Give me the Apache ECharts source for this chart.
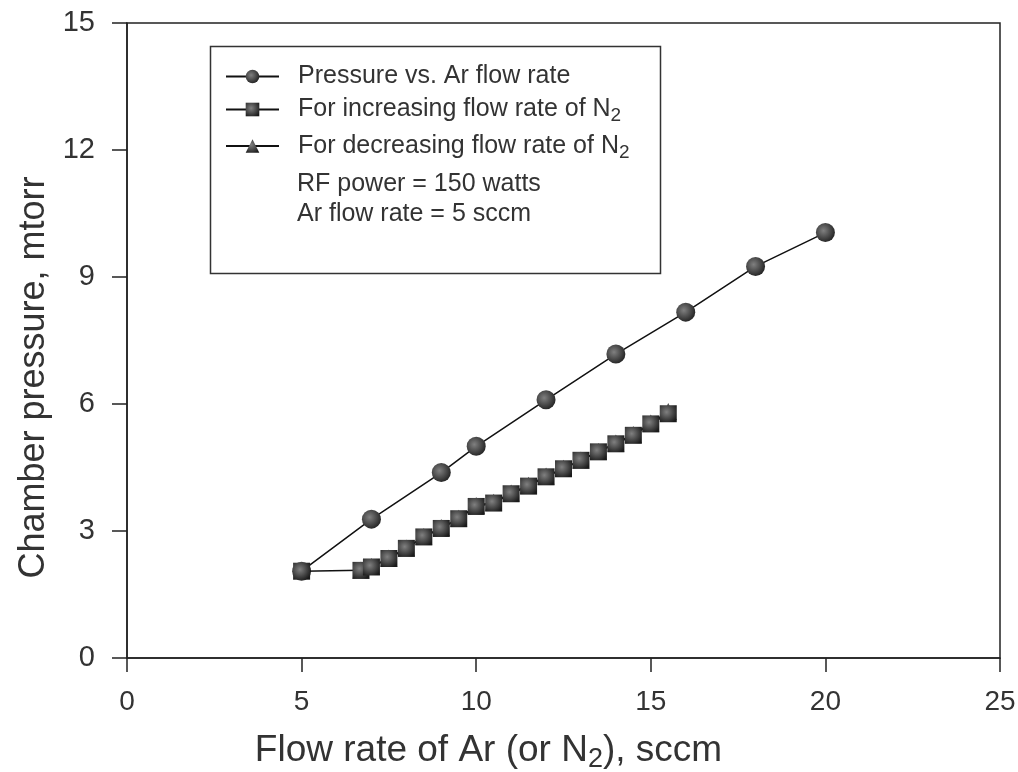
<!DOCTYPE html>
<html>
<head>
<meta charset="utf-8">
<script src="https://cdn.jsdelivr.net/npm/echarts@6/dist/echarts.min.js"></script>
<style>
  html, body { margin: 0; padding: 0; background: #fff; }
  #chart1 { width: 1018px; height: 772px; }
</style>
</head>
<body>
<div id="chart1"></div>
<script>
// 压力 vs Ar 流量
var arFlow = [5, 7, 9, 10, 12, 14, 16, 18, 20];
var arPressure = [2.05, 3.28, 4.38, 5.0, 6.1, 7.18, 8.17, 9.25, 10.05];

// N2 流量增加
var n2IncFlow = [5, 6.7, 7, 7.5, 8, 8.5, 9, 9.5, 10, 10.5, 11, 11.5, 12, 12.5, 13, 13.5, 14, 14.5, 15, 15.5];
var n2IncPressure = [2.05, 2.07, 2.15, 2.35, 2.59, 2.86, 3.06, 3.29, 3.58, 3.66, 3.88, 4.06, 4.28, 4.47, 4.67, 4.87, 5.06, 5.26, 5.53, 5.77];

// N2 流量减少 (被方块覆盖)
var n2DecFlow = [15.5, 15, 14.5, 14, 13.5, 13, 12.5, 12, 11.5, 11, 10.5, 10, 9.5, 9, 8.5, 8, 7.5, 7, 6.7];
var n2DecPressure = [5.82, 5.55, 5.28, 5.08, 4.88, 4.68, 4.48, 4.3, 4.08, 3.9, 3.68, 3.6, 3.3, 3.08, 2.87, 2.6, 2.36, 2.16, 2.08];

var xTicks = [0, 5, 10, 15, 20, 25];
var yTicks = [0, 3, 6, 9, 12, 15];

var seriesNames = [
    'Pressure vs. Ar flow rate',
    'For increasing flow rate of N{sub|2}',
    'For decreasing flow rate of N{sub|2}'
];
var noteLines = ['RF power = 150 watts', 'Ar flow rate = 5 sccm'];

function pairs(xs, ys) {
    return xs.map(function (x, i) { return [x, ys[i]]; });
}

var shade = {
    type: 'radial', x: 0.4, y: 0.4, r: 0.7,
    colorStops: [{offset: 0, color: '#808080'}, {offset: 1, color: '#1a1a1a'}]
};
var txt = '#333';
var font = 'Liberation Sans, Arial, sans-serif';

var myChart = echarts.init(document.getElementById('chart1'));
myChart.setOption({
    animation: false,
    backgroundColor: '#fff',
    grid: {
        left: 127, right: 18, top: 23, bottom: 114,
        outerBoundsMode: 'none',
        show: true, borderColor: '#222', borderWidth: 1.5
    },
    legend: {
        orient: 'vertical',
        left: 220, top: 59,
        padding: 5,
        itemWidth: 53, itemHeight: 17,
        itemGap: 8,
        data: seriesNames,
        textStyle: {
            fontFamily: font, fontSize: 25, color: txt, padding: [0, 0, 0, 14],
            rich: { sub: { fontFamily: font, fontSize: 19, color: txt, verticalAlign: 'bottom', padding: [13, 0, 0, 0] } }
        }
    },
    graphic: [
        {
            type: 'rect', left: 208, top: 44, z: 10,
            shape: { width: 450, height: 227 },
            style: { fill: 'none', stroke: '#333', lineWidth: 1.5 }
        },
        {
            type: 'text', left: 297, top: 169, z: 10,
            style: { text: noteLines.join('\n'), font: '25px ' + font, fill: txt, lineHeight: 30 }
        }
    ],
    xAxis: {
        type: 'value', min: 0, max: 25, interval: 5,
        name: 'Flow rate of Ar (or N{sub|2}), sccm',
        nameLocation: 'middle', nameGap: 70,
        nameTextStyle: {
            fontFamily: font, fontSize: 37, color: txt, padding: [0, 150, 0, 0],
            rich: { sub: { fontFamily: font, fontSize: 27, color: txt, verticalAlign: 'bottom', padding: [18, 0, 0, 0] } }
        },
        axisLine: { lineStyle: { color: '#222', width: 1.5 } },
        axisTick: { inside: false, length: 14, lineStyle: { color: '#222', width: 1.5 } },
        axisLabel: {
            margin: 30, fontFamily: font, fontSize: 28, color: txt,
            formatter: function (v) { return xTicks.indexOf(v) >= 0 ? String(v) : ''; }
        },
        splitLine: { show: false }
    },
    yAxis: {
        type: 'value', min: 0, max: 15, interval: 3,
        name: 'Chamber pressure, mtorr',
        nameLocation: 'middle', nameGap: 74,
        nameTextStyle: { fontFamily: font, fontSize: 36, color: txt, padding: [0, 74, 0, 0] },
        axisLine: { lineStyle: { color: '#222', width: 1.5 } },
        axisTick: { inside: false, length: 15, lineStyle: { color: '#222', width: 1.5 } },
        axisLabel: {
            margin: 32, fontFamily: font, fontSize: 29, color: txt,
            formatter: function (v) { return yTicks.indexOf(v) >= 0 ? String(v) : ''; }
        },
        splitLine: { show: false }
    },
    series: [
        {
            name: seriesNames[2], type: 'line', data: pairs(n2DecFlow, n2DecPressure),
            symbol: 'triangle', symbolSize: 17, z: 2,
            lineStyle: { color: '#111', width: 1.5 },
            itemStyle: { color: shade, borderWidth: 0 }
        },
        {
            name: seriesNames[0], type: 'line', data: pairs(arFlow, arPressure),
            symbol: 'circle', symbolSize: 19, z: 3,
            lineStyle: { color: '#111', width: 1.5 },
            itemStyle: { color: shade, borderWidth: 0 }
        },
        {
            name: seriesNames[1], type: 'line', data: pairs(n2IncFlow, n2IncPressure),
            symbol: 'rect', symbolSize: 17, z: 4,
            lineStyle: { color: '#111', width: 1.5 },
            itemStyle: { color: shade, borderWidth: 0 }
        }
    ]
});
</script>
</body>
</html>
